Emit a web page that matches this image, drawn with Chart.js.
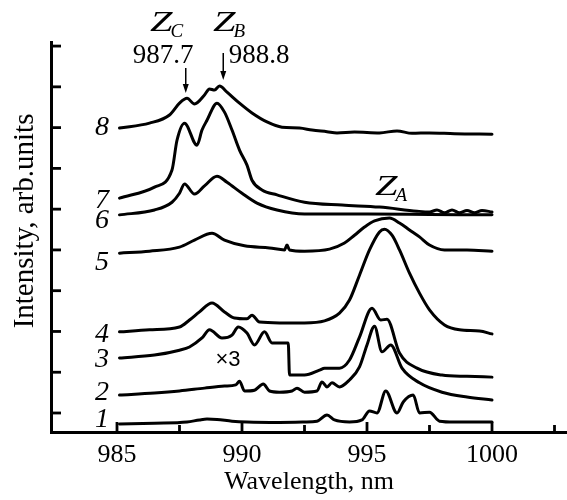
<!DOCTYPE html>
<html>
<head>
  <meta charset="UTF-8">
  <title>Intensity spectra</title>
  <script src="https://cdn.jsdelivr.net/npm/chart.js"></script>
  <style>
    html, body { margin: 0; padding: 0; background: #fff; }
    #wrap { width: 567px; height: 500px; }
  </style>
</head>
<body>
  <div id="wrap"><canvas id="chart"></canvas></div>

  <script>
    // wavelength (nm) / intensity (arb. units, curves stacked)
    const wl1 = [985.1, 986.5, 987.8, 988.3, 988.6, 989.0, 989.6, 990.2, 991.5, 992.5, 993.0, 993.4, 993.7, 994.3, 994.8, 995.1, 995.4, 995.75, 996.2, 996.45, 996.85, 997.1, 997.5, 997.9, 998.5, 1000];
    const int1 = [-0.27, -0.25, -0.22, -0.17, -0.15, -0.16, -0.20, -0.22, -0.23, -0.22, -0.20, -0.05, -0.17, -0.22, -0.17, 0.05, 0.00, 0.54, 0.00, 0.27, 0.44, 0.00, 0.02, -0.20, -0.22, -0.22];

    const wl2 = [985.1, 986.5, 987.5, 988.5, 989.3, 989.75, 989.9, 990.1, 990.5, 990.85, 991.1, 991.5, 992.0, 992.2, 992.5, 993.0, 993.2, 993.4, 993.6, 993.9, 994.3, 994.7, 995.0, 995.3, 995.6, 995.95, 996.4, 997.1, 998.0, 999.0, 1000];
    const int2 = [0.44, 0.49, 0.54, 0.61, 0.66, 0.69, 0.78, 0.54, 0.56, 0.71, 0.54, 0.51, 0.54, 0.61, 0.51, 0.54, 0.76, 0.64, 0.74, 0.64, 0.81, 1.13, 1.67, 2.13, 1.50, 1.67, 1.10, 0.74, 0.51, 0.39, 0.32];

    const wl3 = [985.1, 986.5, 987.5, 987.9, 988.4, 988.7, 989.2, 989.6, 989.85, 990.2, 990.5, 990.9, 991.2, 991.85, 991.9, 992.5, 993.1, 993.3, 993.9, 994.3, 994.7, 995.2, 995.55, 995.8, 996.3, 997.0, 998.0, 999.0, 1000];
    const int3 = [1.35, 1.42, 1.54, 1.62, 1.84, 2.04, 1.84, 1.91, 2.11, 1.96, 1.67, 1.99, 1.72, 1.72, 0.93, 0.93, 1.05, 1.10, 1.10, 1.30, 1.86, 2.57, 2.28, 2.30, 1.47, 1.10, 0.93, 0.90, 0.88];

    const wl4 = [985.1, 986.3, 987.5, 987.9, 988.3, 988.8, 989.3, 989.7, 990.2, 990.4, 990.7, 991.5, 992.5, 993.3, 993.9, 994.3, 994.7, 995.1, 995.5, 995.7, 996.0, 996.3, 996.7, 997.1, 997.5, 998.1, 998.7, 999.5, 1000];
    const int4 = [1.99, 2.04, 2.11, 2.28, 2.48, 2.70, 2.48, 2.33, 2.31, 2.40, 2.23, 2.21, 2.21, 2.26, 2.45, 2.77, 3.38, 4.00, 4.44, 4.51, 4.36, 4.00, 3.43, 2.94, 2.53, 2.16, 2.04, 2.01, 1.94];

    const wl5 = [985.1, 986.3, 987.5, 988.1, 988.8, 989.3, 990.1, 991.1, 991.7, 991.8, 991.9, 992.5, 993.5, 994.1, 994.5, 994.9, 995.3, 995.9, 996.3, 996.7, 997.1, 997.5, 998.1, 999.0, 1000];
    const int5 = [3.92, 3.97, 4.07, 4.24, 4.41, 4.24, 4.10, 4.05, 4.00, 4.12, 4.00, 3.97, 4.02, 4.17, 4.36, 4.56, 4.71, 4.78, 4.66, 4.49, 4.32, 4.12, 4.00, 4.00, 3.97];

    const wl6 = [985.1, 986.5, 987.2, 987.5, 987.7, 988.1, 988.5, 989.0, 989.4, 990.0, 990.6, 991.4, 992.5, 995.0, 997.5, 1000];
    const int6 = [4.86, 4.98, 5.17, 5.39, 5.62, 5.37, 5.57, 5.81, 5.66, 5.39, 5.15, 4.98, 4.88, 4.88, 4.87, 4.86];

    const wl7 = [985.1, 986.5, 987.2, 987.4, 987.7, 988.2, 988.4, 988.6, 989.0, 989.3, 989.6, 989.9, 990.2, 990.4, 990.8, 991.4, 992.5, 994.0, 995.5, 997.0, 997.5, 997.8, 998.1, 998.4, 998.7, 999.0, 999.3, 999.6, 1000];
    const int7 = [5.27, 5.54, 5.96, 6.69, 7.11, 6.57, 6.94, 7.18, 7.60, 7.38, 6.94, 6.45, 6.08, 5.71, 5.47, 5.35, 5.17, 5.10, 5.05, 4.95, 4.93, 4.98, 4.91, 4.98, 4.91, 4.97, 4.91, 4.97, 4.93];

    const wl8 = [985.1, 986.3, 987.1, 987.5, 987.8, 988.1, 988.5, 988.7, 988.9, 989.1, 989.4, 989.9, 990.4, 991.0, 991.6, 992.3, 992.8, 993.4, 993.8, 994.5, 995.5, 996.2, 996.8, 997.5, 998.5, 1000];
    const int8 = [6.99, 7.11, 7.31, 7.60, 7.72, 7.58, 7.80, 7.95, 7.92, 8.02, 7.87, 7.60, 7.36, 7.14, 7.01, 6.99, 6.94, 6.90, 6.87, 6.89, 6.87, 6.92, 6.86, 6.87, 6.85, 6.84];

    const curveNames = ['1', '2', '3', '4', '5', '6', '7', '8'];
    const curveLabelY = [-0.17, 0.49, 1.30, 1.91, 3.70, 4.71, 5.22, 6.99];
    const curveLabelX = 984.4;

    const xTicks = [985, 987.5, 990, 992.5, 995, 997.5, 1000, 1002.5];
    const xTickLabels = [985, 990, 995, 1000];
    const yTicks = [0, 1, 2, 3, 4, 5, 6, 7, 8, 9];

    // Z_C, Z_B, Z_A and the marked wavelengths
    const peakSubs = ['C', 'B', 'A'];
    const peakX = [986.32, 988.84, 995.32];
    const peakY = [9.37, 9.37, 5.35];
    const markText = ['987.7', '988.8'];
    const markX = [986.84, 990.68];
    const markY = [8.58, 8.58];
    const arrowX = [987.75, 989.25];
    const arrowTop = [8.46, 8.83];
    const arrowEnd = [7.85, 8.17];

    const serif = '"Liberation Serif", "Times New Roman", serif';

    const toPoints = (xs, ys) => xs.map((x, i) => ({ x: x, y: ys[i] }));
    const series = [[wl1, int1], [wl2, int2], [wl3, int3], [wl4, int4],
                    [wl5, int5], [wl6, int6], [wl7, int7], [wl8, int8]];

    const datasets = series.map((s, i) => ({
      label: curveNames[i],
      data: toPoints(s[0], s[1]),
      borderColor: '#000',
      borderWidth: 3,
      pointRadius: 0,
      fill: false,
      cubicInterpolationMode: 'monotone',
      borderJoinStyle: 'round',
      borderCapStyle: 'round'
    }));

    const decor = {
      id: 'decor',
      afterDraw(chart) {
        const ctx = chart.ctx;
        const xs = chart.scales.x, ys = chart.scales.y;
        const area = chart.chartArea;
        ctx.save();
        ctx.strokeStyle = '#000';
        ctx.fillStyle = '#000';
        ctx.lineWidth = 2.8;

        // inward tick marks
        xs.ticks.forEach(t => {
          const px = xs.getPixelForValue(t.value);
          const len = xTickLabels.includes(t.value) ? 10 : 7;
          ctx.beginPath();
          ctx.moveTo(px, area.bottom);
          ctx.lineTo(px, area.bottom - len);
          ctx.stroke();
        });
        ys.ticks.forEach(t => {
          const py = ys.getPixelForValue(t.value);
          ctx.beginPath();
          ctx.moveTo(area.left, py);
          ctx.lineTo(area.left + 10, py);
          ctx.stroke();
        });

        // curve numbers
        ctx.font = 'italic 28px ' + serif;
        ctx.textAlign = 'center';
        ctx.textBaseline = 'middle';
        curveNames.forEach((n, i) => {
          ctx.fillText(n, xs.getPixelForValue(curveLabelX), ys.getPixelForValue(curveLabelY[i]));
        });

        // Z labels
        ctx.textAlign = 'left';
        ctx.textBaseline = 'alphabetic';
        peakSubs.forEach((s, i) => {
          const px = xs.getPixelForValue(peakX[i]);
          const py = ys.getPixelForValue(peakY[i]);
          ctx.font = 'italic 30px ' + serif;
          ctx.save();
          ctx.translate(px, py);
          ctx.scale(1.35, 1);
          ctx.fillText('Z', 0, 0);
          const w = ctx.measureText('Z').width * 1.35;
          ctx.restore();
          ctx.font = 'italic 19px ' + serif;
          ctx.fillText(s, px + w - 2, py + 6);
        });

        // wavelength marks and arrows
        ctx.font = '27px ' + serif;
        ctx.textAlign = 'center';
        markText.forEach((m, i) => {
          ctx.fillText(m, xs.getPixelForValue(markX[i]), ys.getPixelForValue(markY[i]));
        });
        ctx.lineWidth = 1.5;
        arrowX.forEach((a, i) => {
          const px = xs.getPixelForValue(a);
          const y0 = ys.getPixelForValue(arrowTop[i]);
          const y1 = ys.getPixelForValue(arrowEnd[i]);
          ctx.beginPath();
          ctx.moveTo(px, y0);
          ctx.lineTo(px, y1 - 6);
          ctx.stroke();
          ctx.beginPath();
          ctx.moveTo(px, y1);
          ctx.lineTo(px - 3, y1 - 9);
          ctx.lineTo(px + 3, y1 - 9);
          ctx.closePath();
          ctx.fill();
        });

        // x3 factor for curve 3
        ctx.font = '22px "Liberation Sans", Arial, sans-serif';
        ctx.textBaseline = 'middle';
        ctx.fillText('\u00d73', xs.getPixelForValue(989.44), ys.getPixelForValue(1.30));

        // y axis title
        ctx.font = '29px ' + serif;
        ctx.translate(25, ys.getPixelForValue(4.71));
        ctx.rotate(-Math.PI / 2);
        ctx.fillText('Intensity, arb.units', 0, 0);
        ctx.restore();
      }
    };

    new Chart(document.getElementById('chart'), {
      type: 'line',
      data: { datasets: datasets },
      options: {
        responsive: true,
        maintainAspectRatio: false,
        animation: false,
        devicePixelRatio: 1,
        layout: { padding: { top: 42, left: 0, right: 0, bottom: 0 } },
        scales: {
          x: {
            type: 'linear',
            min: 982.36,
            max: 1003,
            afterBuildTicks: s => { s.ticks = xTicks.map(v => ({ value: v })); },
            afterFit: s => { s.height = 68; },
            grid: { display: false, drawTicks: false },
            border: { display: true, color: '#000', width: 3 },
            ticks: {
              padding: 8,
              color: '#000',
              font: { family: serif, size: 26 },
              maxRotation: 0,
              autoSkip: false,
              callback: v => xTickLabels.includes(v) ? String(v) : ''
            },
            title: {
              display: true,
              text: 'Wavelength, nm',
              color: '#000',
              font: { family: serif, size: 26 },
              padding: { top: 0, bottom: 2 }
            }
          },
          y: {
            type: 'linear',
            min: -0.466,
            max: 9.1,
            afterBuildTicks: s => { s.ticks = yTicks.map(v => ({ value: v })); },
            afterFit: s => { s.width = 51; },
            grid: { display: false, drawTicks: false },
            border: { display: true, color: '#000', width: 3 },
            ticks: { display: false }
          }
        },
        plugins: {
          legend: { display: false },
          tooltip: { enabled: false }
        }
      },
      plugins: [decor]
    });
  </script>
</body>
</html>
